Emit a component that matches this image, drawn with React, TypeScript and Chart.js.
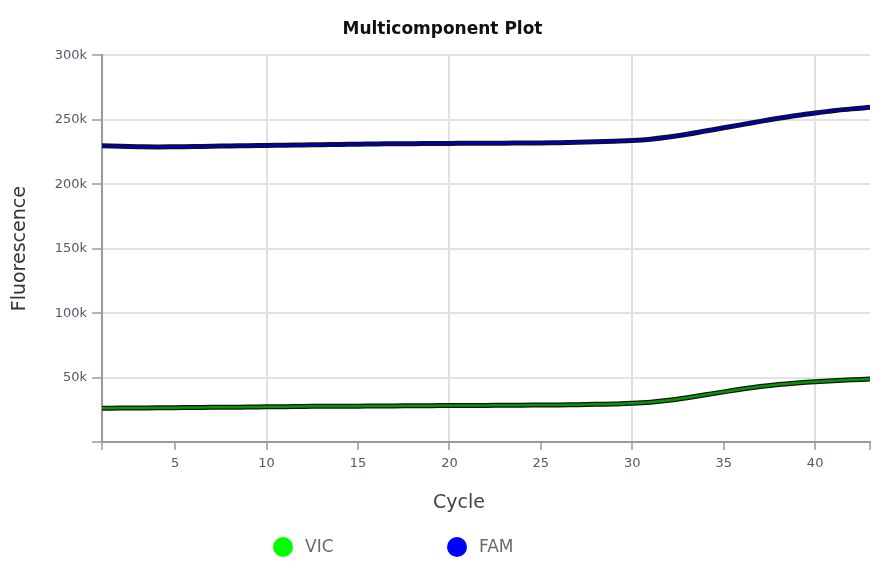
import React, { useEffect, useRef } from 'react';
import { Chart, registerables } from 'chart.js';

Chart.register(...registerables);

const cycles = [1, 2, 3, 4, 5, 6, 7, 8, 9, 10, 11, 12, 13, 14, 15, 16, 17, 18, 19, 20, 21, 22, 23, 24, 25, 26, 27, 28, 29, 30, 31, 32, 33, 34, 35, 36, 37, 38, 39, 40, 41, 42, 43];

// values in thousands
const famValues = [229.8, 229.5, 229.2, 229.0, 229.1, 229.3, 229.5, 229.7, 229.9, 230.1, 230.3, 230.5, 230.7, 230.9, 231.1, 231.3, 231.4, 231.5, 231.6, 231.7, 231.8, 231.8, 231.9, 232.0, 232.1, 232.3, 232.6, 232.9, 233.4, 234.0, 235.0, 236.6, 238.8, 241.3, 243.8, 246.3, 248.8, 251.2, 253.4, 255.3, 257.0, 258.5, 259.7];
const vicValues = [26.2, 26.3, 26.4, 26.5, 26.6, 26.8, 26.9, 27.0, 27.1, 27.3, 27.4, 27.6, 27.7, 27.7, 27.8, 27.9, 28.0, 28.1, 28.2, 28.3, 28.4, 28.4, 28.5, 28.6, 28.7, 28.8, 29.0, 29.2, 29.5, 30.0, 30.9, 32.4, 34.4, 36.6, 38.9, 41.1, 43.0, 44.6, 45.8, 46.8, 47.6, 48.3, 48.8];

const xTickValues = [1, 5, 10, 15, 20, 25, 30, 35, 40, 43];
const xLabelValues = [5, 10, 15, 20, 25, 30, 35, 40];
const xGridValues = [10, 20, 30, 40];
const yTickValues = [0, 50000, 100000, 150000, 200000, 250000, 300000];

const seriesNames = ['VIC', 'FAM'];
const legendColors = ['#00ff00', '#0000ff'];
const lineColors = ['#009a00', '#0000b8'];

const xAxisTitle = 'Cycle';

const FONT = "'DejaVu Sans', sans-serif";

export default function App() {
  const ref = useRef<HTMLCanvasElement>(null);

  useEffect(() => {
    const canvas = ref.current;
    if (!canvas) return;

    const toPoints = (vals: number[]) => cycles.map((c, i) => ({ x: c, y: vals[i] * 1000 }));
    const seriesData = [toPoints(vicValues), toPoints(famValues)];

    const legendPlugin = {
      id: 'customLegend',
      afterDraw(chart: any) {
        const { ctx, chartArea } = chart;
        ctx.save();
        // x-axis title
        ctx.fillStyle = '#444444';
        ctx.font = `19px ${FONT}`;
        ctx.textBaseline = 'middle';
        ctx.textAlign = 'center';
        ctx.fillText(xAxisTitle, chartArea.left + 357, chartArea.bottom + 61);
        // legend
        const y = 547;
        const startX = chartArea.left + 181;
        const gap = 174;
        seriesNames.forEach((name, i) => {
          const cx = startX + i * gap;
          ctx.beginPath();
          ctx.arc(cx, y, 10, 0, Math.PI * 2);
          ctx.fillStyle = legendColors[i];
          ctx.fill();
          ctx.fillStyle = '#6a6a6a';
          ctx.font = `17px ${FONT}`;
          ctx.textBaseline = 'middle';
          ctx.textAlign = 'left';
          ctx.fillText(name, cx + 22, y + 1);
        });
        ctx.restore();
      },
    };

    const datasets: any[] = [];
    seriesNames.forEach((name, i) => {
      datasets.push({
        label: name + ' outline',
        data: seriesData[i],
        borderColor: '#111111',
        borderWidth: 5,
        pointRadius: 0,
        tension: 0.4,
        fill: false,
        order: 2,
      });
      datasets.push({
        label: name,
        data: seriesData[i],
        borderColor: lineColors[i],
        borderWidth: 2.5,
        pointRadius: 0,
        tension: 0.4,
        fill: false,
        order: 1,
      });
    });

    const chart = new Chart(canvas, {
      type: 'line',
      data: { datasets },
      plugins: [legendPlugin],
      options: {
        responsive: false,
        animation: false,
        layout: { padding: { left: 15, right: 15, top: 0, bottom: 0 } },
        plugins: {
          legend: { display: false },
          tooltip: { enabled: false },
          title: {
            display: true,
            text: 'Multicomponent Plot',
            color: '#111111',
            font: { family: FONT, size: 17, weight: 'bold' },
            padding: { top: 19, bottom: 16 },
          },
        },
        scales: {
          x: {
            type: 'linear',
            min: 1,
            max: 43,
            afterBuildTicks: (scale: any) => {
              scale.ticks = xTickValues.map((v) => ({ value: v }));
            },
            afterFit: (scale: any) => {
              scale.height = 137;
            },
            ticks: {
              autoSkip: false,
              maxRotation: 0,
              padding: 6,
              color: '#505a66',
              font: { family: FONT, size: 13 },
              callback: (v: any) => (xLabelValues.includes(Number(v)) ? String(v) : ''),
            },
            grid: {
              color: (c: any) => (c.tick && xGridValues.includes(c.tick.value) ? '#e0e0e0' : 'rgba(0,0,0,0)'),
              lineWidth: 2,
              tickColor: '#999999',
              tickLength: 8,
              tickWidth: 1.5,
            },
            border: { color: '#999999', width: 2 },
            title: { display: false },
          },
          y: {
            type: 'linear',
            min: 0,
            max: 300000,
            afterBuildTicks: (scale: any) => {
              scale.ticks = yTickValues.map((v) => ({ value: v }));
            },
            afterFit: (scale: any) => {
              scale.width = 87;
            },
            ticks: {
              padding: 5,
              color: '#505a66',
              font: { family: FONT, size: 13 },
              callback: (v: any) => (Number(v) === 0 ? '' : Number(v) / 1000 + 'k'),
            },
            grid: {
              color: '#e2e2e2',
              lineWidth: 2,
              tickColor: '#999999',
              tickLength: 10,
              tickWidth: 1.5,
            },
            border: { color: '#999999', width: 2 },
            title: {
              display: true,
              text: 'Fluorescence',
              color: '#333333',
              font: { family: FONT, size: 19 },
              padding: { top: -6, bottom: 0 },
            },
          },
        },
      },
    } as any);

    return () => chart.destroy();
  }, []);

  return (
    <div style={{ position: 'absolute', left: 0, top: 0, width: 885, height: 579, background: '#ffffff' }}>
      <canvas ref={ref} width={885} height={579} style={{ display: 'block' }} />
    </div>
  );
}
